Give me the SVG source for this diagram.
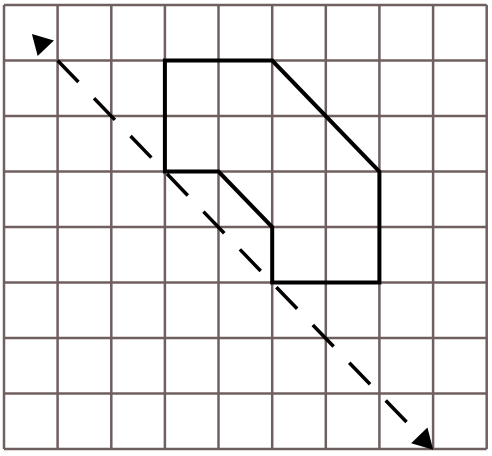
<svg xmlns="http://www.w3.org/2000/svg" width="492" height="456" viewBox="0 0 492 456">
<style>
.grid line{stroke:#6f5f5f;stroke-width:2.5}
.shape{fill:none;stroke:#000;stroke-width:4;stroke-linejoin:miter}
.conn{fill:none;stroke:#000;stroke-width:3.5;stroke-dasharray:30 22.5}
</style>
<defs>
<marker id="aEnd" markerUnits="userSpaceOnUse" orient="auto" refX="0" refY="0" markerWidth="40" markerHeight="40" overflow="visible">
<polygon points="0,-11.3 20,0 0,11.3" fill="#000"/>
</marker>
<marker id="aStart" markerUnits="userSpaceOnUse" orient="auto-start-reverse" refX="0" refY="0" markerWidth="60" markerHeight="40" overflow="visible">
<polygon points="17,-11.3 37,0 17,11.3" fill="#000"/>
</marker>
</defs>
<rect width="492" height="456" fill="#fff"/>
<g id="grid" class="grid">
<line x1="4" y1="5" x2="4" y2="449"/>
<line x1="57.6" y1="5" x2="57.6" y2="449"/>
<line x1="111.3" y1="5" x2="111.3" y2="449"/>
<line x1="164.9" y1="5" x2="164.9" y2="449"/>
<line x1="218.5" y1="5" x2="218.5" y2="449"/>
<line x1="272.2" y1="5" x2="272.2" y2="449"/>
<line x1="325.8" y1="5" x2="325.8" y2="449"/>
<line x1="379.4" y1="5" x2="379.4" y2="449"/>
<line x1="433.1" y1="5" x2="433.1" y2="449"/>
<line x1="486.7" y1="5" x2="486.7" y2="449"/>
<line x1="4" y1="5" x2="486.7" y2="5"/>
<line x1="4" y1="60.5" x2="486.7" y2="60.5"/>
<line x1="4" y1="116" x2="486.7" y2="116"/>
<line x1="4" y1="171.5" x2="486.7" y2="171.5"/>
<line x1="4" y1="227" x2="486.7" y2="227"/>
<line x1="4" y1="282.5" x2="486.7" y2="282.5"/>
<line x1="4" y1="338" x2="486.7" y2="338"/>
<line x1="4" y1="393.5" x2="486.7" y2="393.5"/>
<line x1="4" y1="449" x2="486.7" y2="449"/>
</g>
<g id="shape">
<polygon class="shape" points="164.9,60.5 272.2,60.5 379.4,171.5 379.4,282.5 272.2,282.5 272.2,227 218.5,171.5 164.9,171.5"/>
</g>
<g id="connectors">
<path class="conn" d="M57.6,60.5 L419.3,435.3" marker-start="url(#aStart)" marker-end="url(#aEnd)"/>
</g>
</svg>
